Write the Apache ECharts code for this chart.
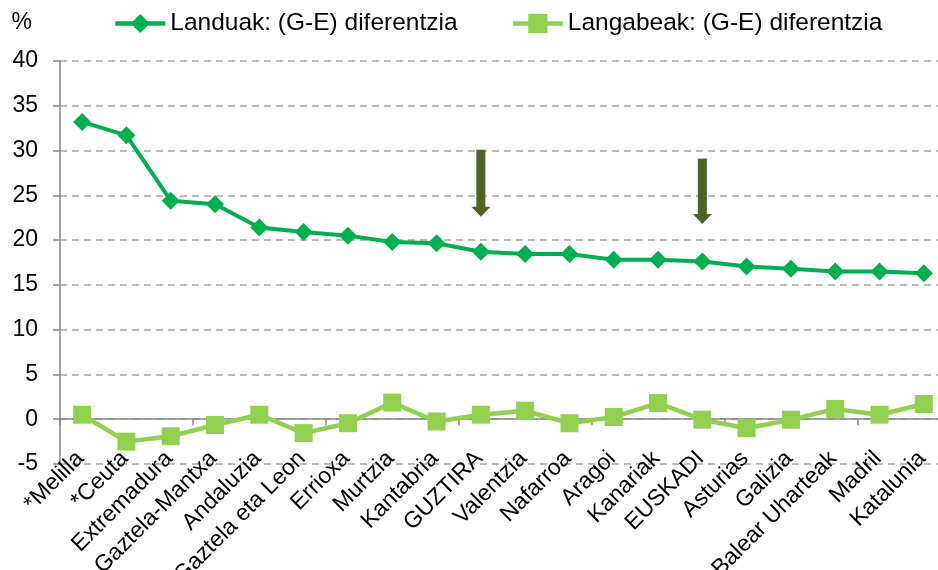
<!DOCTYPE html>
<html>
<head>
<meta charset="utf-8">
<script src="https://cdn.jsdelivr.net/npm/echarts@6/dist/echarts.min.js"></script>
<style>
  html, body { margin: 0; padding: 0; background: #fff; }
  #main { width: 938px; height: 570px; }
</style>
</head>
<body>
<div id="main"></div>
<script>
var categories = ['*Melilla', '*Ceuta', 'Extremadura', 'Gaztela-Mantxa', 'Andaluzia', 'Gaztela eta Leon',
    'Errioxa', 'Murtzia', 'Kantabria', 'GUZTIRA', 'Valentzia', 'Nafarroa', 'Aragoi', 'Kanariak',
    'EUSKADI', 'Asturias', 'Galizia', 'Balear Uharteak', 'Madril', 'Katalunia'];

// Landuak: (G-E) diferentzia
var landuak = [33.2, 31.7, 24.4, 24.0, 21.4, 20.9, 20.5, 19.8, 19.65, 18.7,
    18.45, 18.45, 17.8, 17.8, 17.6, 17.05, 16.8, 16.5, 16.5, 16.3];

// Langabeak: (G-E) diferentzia
var langabeak = [0.5, -2.5, -1.9, -0.65, 0.5, -1.55, -0.45, 1.85, -0.25, 0.5,
    0.95, -0.45, 0.25, 1.8, -0.05, -1.0, -0.05, 1.15, 0.5, 1.7];

// arrows pointing at GUZTIRA and EUSKADI
var arrowCats = ['GUZTIRA', 'EUSKADI'];
var arrowTop = [30.1, 29.1];
var arrowTip = [22.6, 21.8];

var chartDom = document.getElementById('main');
var myChart = echarts.init(chartDom);
var font = "'Liberation Sans', Arial, sans-serif";

var arrowData = [];
for (var i = 0; i < arrowCats.length; i++) {
    arrowData.push([arrowCats[i], arrowTop[i], arrowTip[i]]);
}

function renderArrow(params, api) {
    var top = api.coord([api.value(0), api.value(1)]);
    var tip = api.coord([api.value(0), api.value(2)]);
    var x = top[0];
    var headLen = 10;
    var shaft = 4.5;
    var head = 9.5;
    return {
        type: 'polygon',
        shape: {
            points: [
                [x - shaft, top[1]], [x + shaft, top[1]],
                [x + shaft, tip[1] - headLen], [x + head, tip[1] - headLen],
                [x, tip[1]],
                [x - head, tip[1] - headLen], [x - shaft, tip[1] - headLen]
            ]
        },
        style: { fill: '#4F6228' }
    };
}

var option = {
    animation: false,
    textStyle: { fontFamily: font },
    grid: { left: 60, right: -8, top: 61, bottom: 106, outerBoundsMode: 'none', containLabel: false },
    legend: {
        data: ['Landuak: (G-E) diferentzia', 'Langabeak: (G-E) diferentzia'],
        left: 108,
        top: 6,
        itemWidth: 50,
        itemHeight: 24,
        itemGap: 53,
        lineStyle: { width: 4.5 },
        textStyle: { fontSize: 24.5, color: '#000', fontFamily: font }
    },
    xAxis: [
        {
            // labels at the bottom
            type: 'category',
            data: categories,
            position: 'bottom',
            axisLine: { show: false, onZero: false },
            axisTick: { show: false },
            axisLabel: {
                rotate: 45,
                interval: 0,
                fontSize: 23,
                color: '#000',
                fontFamily: font,
                verticalAlign: 'top',
                padding: [0, 14, 0, 0],
                margin: -27
            }
        },
        {
            // axis line and ticks at zero
            type: 'category',
            data: categories,
            position: 'bottom',
            axisLine: { show: true, onZero: true, lineStyle: { color: '#868686', width: 1.5 } },
            axisTick: { show: true, length: 6, lineStyle: { color: '#868686', width: 1.5 } },
            axisLabel: { show: false }
        }
    ],
    yAxis: {
        type: 'value',
        min: -5,
        max: 40,
        interval: 5,
        name: '%',
        nameLocation: 'end',
        nameGap: 38,
        nameTextStyle: {
            fontSize: 23,
            color: '#000',
            fontFamily: font,
            align: 'right',
            verticalAlign: 'middle',
            padding: [0, 28, 0, 0]
        },
        axisLine: { show: true, lineStyle: { color: '#868686', width: 1.5 } },
        axisTick: { show: true, length: 7, lineStyle: { color: '#868686', width: 1.5 } },
        axisLabel: { fontSize: 23, color: '#000', fontFamily: font, margin: 22 },
        splitLine: {
            show: true,
            lineStyle: { color: '#A6A6A6', width: 1.5, type: [7, 5] }
        }
    },
    series: [
        {
            name: 'Landuak: (G-E) diferentzia',
            type: 'line',
            data: landuak,
            color: '#00B050',
            symbol: 'diamond',
            symbolSize: 18,
            lineStyle: { width: 4, color: '#00B050' },
            itemStyle: { color: '#00B050' },
            z: 3
        },
        {
            name: 'Langabeak: (G-E) diferentzia',
            type: 'line',
            data: langabeak,
            color: '#92D050',
            symbol: 'rect',
            symbolSize: 18,
            lineStyle: { width: 4.5, color: '#92D050' },
            itemStyle: { color: '#92D050' },
            z: 3
        },
        {
            name: 'arrows',
            type: 'custom',
            data: arrowData,
            renderItem: renderArrow,
            encode: { x: 0, y: [1, 2] },
            z: 4
        }
    ]
};

option && myChart.setOption(option);
</script>
</body>
</html>
